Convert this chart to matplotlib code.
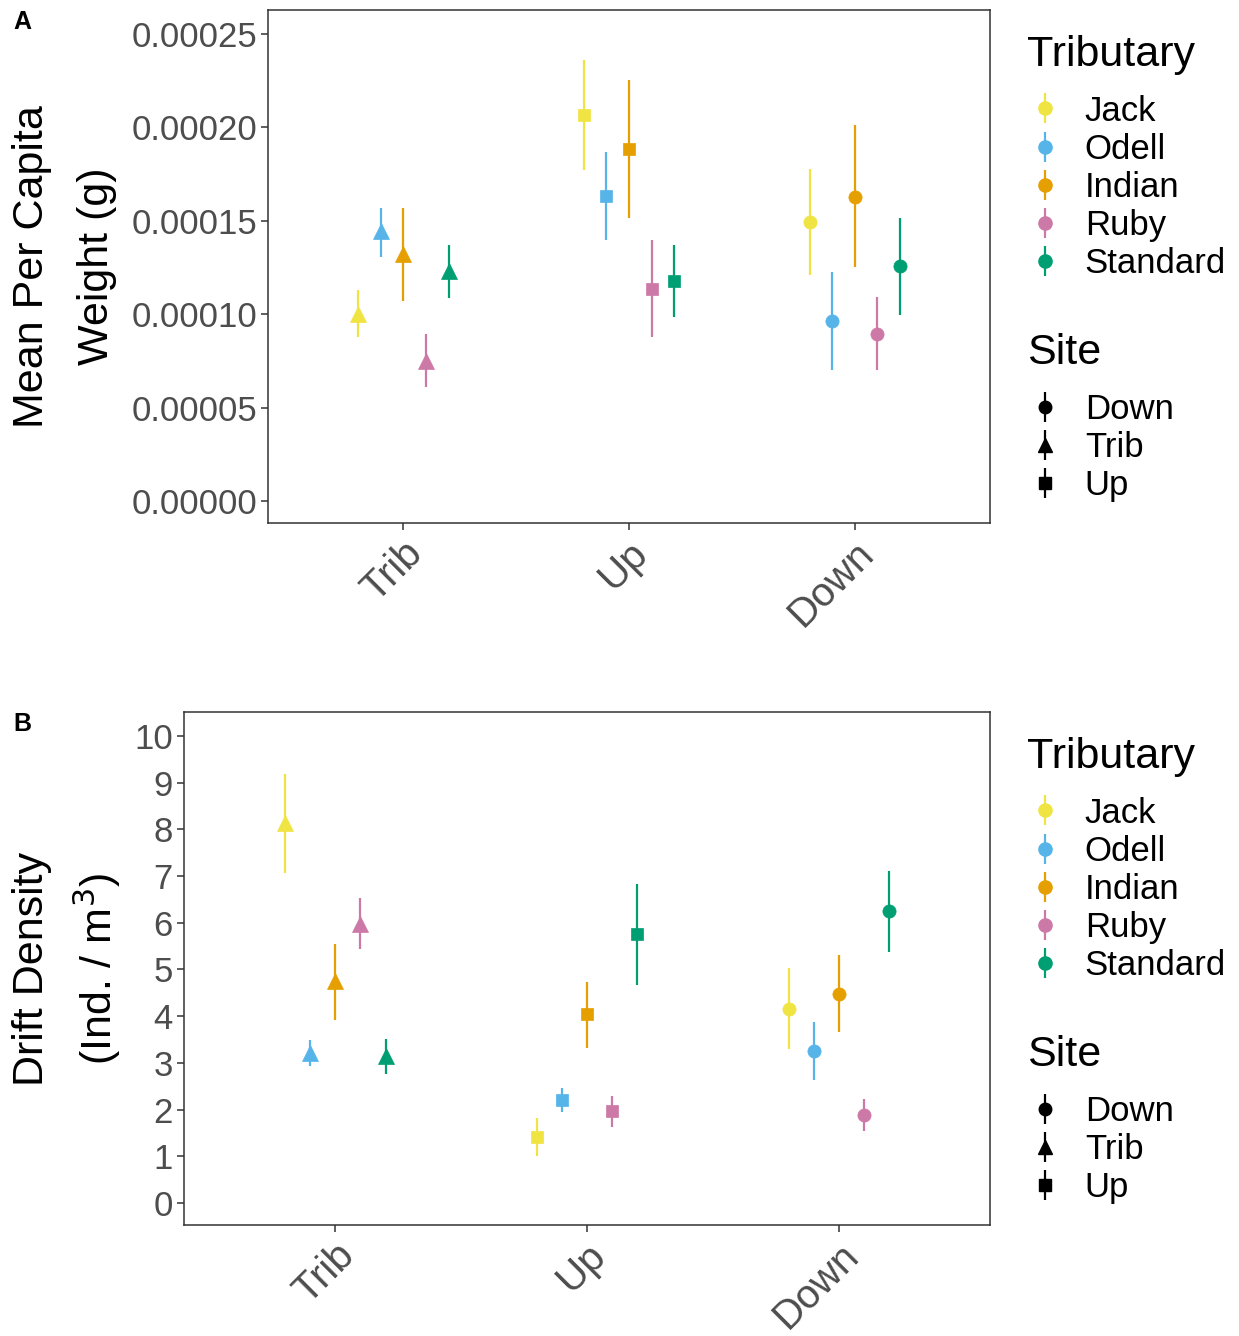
import numpy as np
import matplotlib.pyplot as plt
from matplotlib.lines import Line2D
from matplotlib.legend_handler import HandlerTuple

plt.rcParams['font.family'] = ['Liberation Sans', 'DejaVu Sans']

sites = ['Trib', 'Up', 'Down']
tributaries = ['Jack', 'Odell', 'Indian', 'Ruby', 'Standard']
trib_colors = ['#F0E442', '#56B4E9', '#E69F00', '#CC79A7', '#009E73']
site_order = ['Down', 'Trib', 'Up']
site_markers = {'Down': 'o', 'Trib': '^', 'Up': 's'}
site_ms = {'Down': 9.5, 'Trib': 11, 'Up': 9}

# panel A: mean per capita weight (g); rows = tributary, cols = site (Trib, Up, Down)
wt_mean = np.array([
    [0.0001001, 0.0002066, 0.0001494],
    [0.0001445, 0.0001633, 0.0000964],
    [0.0001322, 0.0001884, 0.0001627],
    [0.0000749, 0.0001135, 0.0000894],
    [0.0001231, 0.0001178, 0.0001258],
])
wt_lo = np.array([
    [0.0000878, 0.0001772, 0.0001210],
    [0.0001306, 0.0001397, 0.0000701],
    [0.0001071, 0.0001515, 0.0001253],
    [0.0000610, 0.0000878, 0.0000701],
    [0.0001087, 0.0000985, 0.0000996],
])
wt_hi = np.array([
    [0.0001130, 0.0002361, 0.0001777],
    [0.0001569, 0.0001868, 0.0001226],
    [0.0001569, 0.0002254, 0.0002013],
    [0.0000894, 0.0001397, 0.0001092],
    [0.0001370, 0.0001370, 0.0001515],
])

# panel B: drift density (ind./m3)
dd_mean = np.array([
    [8.14, 1.41, 4.15],
    [3.21, 2.21, 3.25],
    [4.75, 4.05, 4.48],
    [5.97, 1.97, 1.88],
    [3.15, 5.76, 6.25],
])
dd_lo = np.array([
    [7.07, 1.01, 3.30],
    [2.93, 1.95, 2.63],
    [3.92, 3.32, 3.66],
    [5.44, 1.63, 1.54],
    [2.76, 4.67, 5.37],
])
dd_hi = np.array([
    [9.19, 1.82, 5.03],
    [3.49, 2.46, 3.88],
    [5.55, 4.73, 5.31],
    [6.53, 2.29, 2.23],
    [3.51, 6.83, 7.11],
])

W, H = 1239, 1336
fig = plt.figure(figsize=(W / 100, H / 100), dpi=100)

tick_col = '#4D4D4D'
line_col = '#333333'
dodge = [-0.2, -0.1, 0.0, 0.1, 0.2]
fs_tick = 25
fs_xtick = 29
fs_title = 31


def fy(y):
    return 1 - y / H


def panel(rect, mean, lo, hi, ylim, yticks, yticklabels, ylabel_lines, letter, off):
    l, t, r, b = rect
    ax = fig.add_axes([l / W, fy(b), (r - l) / W, (b - t) / H])
    for i, trib in enumerate(tributaries):
        for j, site in enumerate(sites):
            x = j + 1 + dodge[i]
            ax.vlines(x, lo[i, j], hi[i, j], color=trib_colors[i], lw=1.6)
            ax.plot(x, mean[i, j], marker=site_markers[site], ms=site_ms[site],
                    color=trib_colors[i], mec=trib_colors[i], mew=0.5, ls='none')
    ax.set_xlim(0.4, 3.6)
    ax.set_ylim(*ylim)
    ax.set_xticks([1, 2, 3])
    ax.set_xticklabels(sites, rotation=45, ha='right', va='top', rotation_mode='anchor',
                       fontsize=fs_xtick)
    ax.set_yticks(yticks)
    ax.set_yticklabels(yticklabels, fontsize=fs_tick)
    ax.tick_params(colors=line_col, labelcolor=tick_col, length=5, width=1.1, pad=3)
    ax.tick_params(axis='x', pad=3)
    for s in ax.spines.values():
        s.set_color(line_col)
        s.set_linewidth(1.1)
    for xpos, line in zip([32, 97], ylabel_lines):
        fig.text(xpos / W, fy((t + b) / 2), line, rotation=90, ha='center', va='center',
                 fontsize=fs_title)
    fig.text(22 / W, fy(22 + off), letter, fontweight='bold', fontsize=18, ha='center', va='center')

    # legends
    trib_handles = [(Line2D([], [], marker='|', ms=21, mew=1.6, color=c, ls='none'),
                     Line2D([], [], marker='o', ms=9.5, color=c, ls='none')) for c in trib_colors]
    site_handles = [(Line2D([], [], marker='|', ms=21, mew=1.6, color='black', ls='none'),
                     Line2D([], [], marker=site_markers[s], ms=site_ms[s] - 0.5, color='black', ls='none'))
                    for s in site_order]
    common = dict(frameon=False, fontsize=fs_tick, handler_map={tuple: HandlerTuple(ndivide=1)},
                  handlelength=1.2, handletextpad=0.55, labelspacing=0.15, borderaxespad=0, borderpad=0,
                  loc='center left', bbox_transform=fig.transFigure)
    fig.text(1027 / W, fy(55 + off), 'Tributary', fontsize=fs_title, ha='left', va='center')
    leg1 = ax.legend(trib_handles, tributaries, bbox_to_anchor=(1024 / W, fy(187.5 + off)), **common)
    ax.add_artist(leg1)
    fig.text(1027 / W, fy(353 + off), 'Site', fontsize=fs_title, ha='left', va='center')
    ax.legend(site_handles, site_order, bbox_to_anchor=(1024 / W, fy(447.5 + off)), **common)
    return ax


panel((268, 10, 990, 523), wt_mean, wt_lo, wt_hi, (-0.0000118, 0.0002628),
      [0, 0.00005, 0.0001, 0.00015, 0.0002, 0.00025],
      ['0.00000', '0.00005', '0.00010', '0.00015', '0.00020', '0.00025'],
      ['Mean Per Capita', 'Weight (g)'], 'A', 0)

panel((184, 712, 990, 1225), dd_mean, dd_lo, dd_hi, (-0.47, 10.51),
      list(range(0, 11)), [str(v) for v in range(0, 11)],
      ['Drift Density', '(Ind. / m$^3$)'], 'B', 702)

fig.savefig('out.png', dpi=100)
